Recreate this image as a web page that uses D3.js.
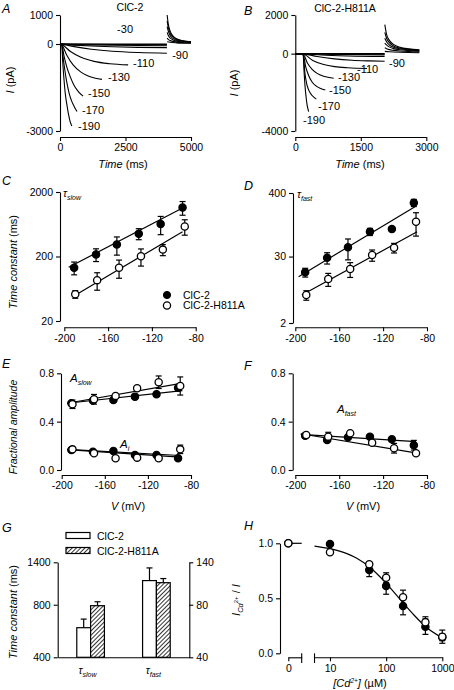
<!DOCTYPE html>
<html><head><meta charset="utf-8">
<script src="https://cdn.jsdelivr.net/npm/d3@7"></script>
<style>body{margin:0;background:#fff}</style>
</head><body>
<script>
const FONT = '"Liberation Sans", Arial, Helvetica, sans-serif';
const TICK_FS = 10.5;

// ================= DATA =================
// Panel A (ClC-2) current traces: [time ms, current pA]
const traceVoltsA = [-190,-170,-150,-130,-110,-90,-70,-50,-30,-10];
const tracesA = [
  [[0,0],[70,-50],[100,-550],[150,-1200],[200,-1700],[255,-2050],[320,-2400],[380,-2650],[450,-2830]],
  [[0,0],[70,-40],[120,-470],[180,-870],[255,-1300],[350,-1700],[450,-1980],[550,-2170],[650,-2330]],
  [[0,0],[70,-30],[150,-400],[255,-780],[400,-1150],[550,-1450],[700,-1640],[880,-1800]],
  [[0,0],[70,-30],[255,-380],[500,-720],[800,-970],[1100,-1110],[1350,-1180],[1600,-1220]],
  [[0,0],[70,-20],[400,-260],[800,-460],[1300,-600],[1900,-680],[2600,-720]],
  [[0,0],[70,-10],[600,-100],[1200,-180],[2000,-250],[3000,-295],[4080,-320]],
  [[0,0],[70,-5],[1000,-60],[2000,-95],[3000,-115],[4080,-125]],
  [[0,0],[70,-3],[1000,-30],[2000,-45],[4080,-60]],
  [[0,0],[70,0],[2000,-15],[4080,-20]],
  [[0,0],[70,0],[4080,0]]
];
const tailsA = [
  [[4090,1000],[4130,700],[4200,450],[4300,290],[4450,180],[4650,120],[5000,80]],
  [[4090,800],[4130,580],[4200,380],[4300,250],[4450,160],[4650,110],[5000,75]],
  [[4090,600],[4130,450],[4200,300],[4300,200],[4450,130],[4650,95],[5000,65]],
  [[4090,400],[4130,300],[4200,210],[4300,150],[4450,100],[4650,75],[5000,55]],
  [[4090,200],[4130,160],[4200,120],[4300,90],[4450,65],[4650,50],[5000,40]],
  [[4090,80],[4200,60],[4450,40],[5000,25]]
];
const labelsA = [
  {s:'-190', t:690, i:-2830}, {s:'-170', t:840, i:-2280}, {s:'-150', t:1070, i:-1690},
  {s:'-130', t:1830, i:-1140}, {s:'-110', t:2790, i:-655}, {s:'-90', t:4280, i:-380},
  {s:'-30', t:2180, i:520}
];
// Panel B (ClC-2-H811A) current traces
const tracesB = [
  [[0,0],[180,-50],[200,-900],[220,-1600],[245,-2200],[270,-2650],[306,-3000]],
  [[0,0],[180,-50],[220,-1000],[260,-1550],[310,-1900],[380,-2150],[481,-2350]],
  [[0,0],[180,-40],[240,-700],[300,-1100],[380,-1450],[480,-1680],[580,-1800],[687,-1880]],
  [[0,0],[180,-30],[280,-500],[380,-800],[500,-1020],[650,-1170],[879,-1270]],
  [[0,0],[180,-20],[400,-350],[650,-560],[900,-670],[1200,-730],[1642,-770]],
  [[0,0],[180,-10],[500,-150],[900,-270],[1300,-340],[1700,-375],[2046,-395]],
  [[0,0],[180,-5],[600,-70],[1200,-120],[2046,-150]],
  [[0,0],[180,-3],[800,-35],[2046,-60]],
  [[0,0],[180,0],[1000,-15],[2046,-20]],
  [[0,0],[180,0],[2046,0]]
];
const tailsB = [
  [[2050,1500],[2090,1000],[2150,700],[2250,480],[2400,330],[2600,250],[2840,200]],
  [[2050,1100],[2090,800],[2150,580],[2250,400],[2400,290],[2600,220],[2840,180]],
  [[2050,800],[2090,620],[2150,460],[2250,330],[2400,250],[2600,190],[2840,160]],
  [[2050,550],[2090,450],[2150,350],[2250,260],[2400,200],[2600,160],[2840,130]],
  [[2050,300],[2090,260],[2150,210],[2250,170],[2400,135],[2600,110],[2840,95]],
  [[2050,120],[2150,100],[2400,70],[2840,50]]
];
const labelsB = [
  {s:'-190', t:176, i:-3420}, {s:'-170', t:520, i:-2720}, {s:'-150', t:772, i:-1900},
  {s:'-130', t:978, i:-1230}, {s:'-110', t:1413, i:-820}, {s:'-90', t:2146, i:-510}
];

// Panels C-F: voltages
const vWT  = [-191,-171,-152,-132,-112,-92];
const vMut = [-190,-170,-150,-130,-110,-90];
// C: tau slow (ms)
const tauSlowWT = [134,215,306,452,636,1148];
const tauSlowWTerr = [30,48,96,88,200,275];
const tauSlowMut = [52,86,134,202,256,585];
const tauSlowMutErr = [7,26,42,60,50,157];
const tauSlowFitWT = [[-196,136],[-92,1130]];
const tauSlowFitMut = [[-192,48],[-92,484]];
// D: tau fast (ms)
const tauFastWT = [15.8,28.6,43.8,82.6,92.2,269];
const tauFastWTerr = [2.8,6.5,17.6,12,9,39];
const tauFastMut = [6.26,12.0,18.1,32.0,43.0,124];
const tauFastMutErr = [1.2,3.1,5.3,7.2,8.3,55];
const tauFastFitWT = [[-197,13.2],[-91,229]];
const tauFastFitMut = [[-194,6.26],[-89,82.6]];
// E: fractional amplitudes
const aSlowWT = [0.552,0.574,0.58,0.607,0.627,0.68];
const aSlowWTerr = [0.01,0.015,0.01,0.01,0.01,0.01];
const aSlowMut = [0.544,0.585,0.613,0.676,0.726,0.695];
const aSlowMutErr = [0.035,0.04,0.01,0.02,0.052,0.075];
const aSlowFitWT = [[-195,0.552],[-88,0.656]];
const aSlowFitMut = [[-195,0.552],[-88,0.718]];
const aiWT = [0.166,0.151,0.157,0.124,0.124,0.097];
const aiWTerr = [0.01,0.01,0.01,0.01,0.01,0.01];
const aiMut = [0.171,0.138,0.097,0.102,0.097,0.171];
const aiMutErr = [0.01,0.01,0.01,0.01,0.01,0.035];
const aiFitWT = [[-195,0.168],[-90,0.107]];
const aiFitMut = [[-195,0.17],[-90,0.12]];
// F
const aFastWT = [0.284,0.248,0.27,0.276,0.254,0.205];
const aFastWTerr = [0.01,0.015,0.01,0.01,0.01,0.04];
const aFastMut = [0.29,0.276,0.304,0.225,0.18,0.138];
const aFastMutErr = [0.01,0.036,0.015,0.01,0.04,0.01];
const aFastFitWT = [[-195,0.295],[-90,0.234]];
const aFastFitMut = [[-195,0.30],[-89,0.14]];
// G: mean time constants
const gCats = ['slow','fast'];
const gWT = [591,110], gWTerr = [71,20];
const gMut = [790,107], gMutErr = [42,6];
// H: Cd2+ inhibition
const cdConc = [10,50,100,200,500,1000];
const cdWT = [0.994,0.757,0.612,0.43,0.242,0.145];
const cdWTerr = [0.01,0.06,0.075,0.08,0.07,0.03];
const cdMut = [0.918,0.809,0.687,0.509,0.282,0.151];
const cdMutErr = [0.01,0.02,0.045,0.065,0.05,0.06];
const cdFitConc = [5.3,10,20,30,50,100,200,300,500,1000];
const cdFitVal  = [0.975,0.951,0.906,0.864,0.786,0.636,0.459,0.358,0.244,0.14];

// ================= DRAW =================
const svg = d3.select('body').append('svg').attr('width',454).attr('height',690)
  .style('font-family', FONT);

function styleAxis(g, size=TICK_FS){
  g.attr('font-family', FONT).attr('font-size', size);
  g.selectAll('text').attr('fill','#000');
  g.selectAll('path,line').attr('stroke','#000').attr('stroke-width',1.1);
}
function rich(x, y, parts, o={}){
  const t = svg.append('text').attr('x',x).attr('y',y).attr('font-size',o.size||11)
    .attr('text-anchor',o.anchor||'start').attr('fill','#000');
  if(o.rotate) t.attr('transform',`rotate(-90,${x},${y})`);
  parts.forEach(p=>{
    const s = t.append('tspan').text(p.t);
    if(p.i) s.attr('font-style','italic');
    if(p.dy) s.attr('dy',p.dy);
    if(p.size) s.attr('font-size',p.size);
  });
  return t;
}
const fmtInt = d => String(d);
const fmt1 = d => d.toFixed(1);

function points(g, xs, ys, errs, xS, yS, filled){
  const gg = g.append('g');
  xs.forEach((v,i)=>{
    const x = xS(v), e = errs ? errs[i] : 0;
    if(e>0){
      const y1 = yS(ys[i]-e), y2 = yS(ys[i]+e);
      gg.append('line').attr('x1',x).attr('x2',x).attr('y1',y1).attr('y2',y2).attr('stroke','#000').attr('stroke-width',1.2);
      [y1,y2].forEach(yy=>gg.append('line').attr('x1',x-3).attr('x2',x+3).attr('y1',yy).attr('y2',yy).attr('stroke','#000').attr('stroke-width',1.2));
    }
  });
  xs.forEach((v,i)=>{
    gg.append('circle').attr('cx',xS(v)).attr('cy',yS(ys[i])).attr('r',3.6)
      .attr('fill',filled?'#000':'#fff').attr('stroke','#000').attr('stroke-width',1.3);
  });
}
function fitLine(g, pts, xS, yS){
  g.append('path').datum(pts).attr('d',d3.line().x(d=>xS(d[0])).y(d=>yS(d[1])))
    .attr('fill','none').attr('stroke','#000').attr('stroke-width',1.2);
}

// ---------- Panel A ----------
{
  const x = d3.scaleLinear().domain([0,5000]).range([60,191]);
  const y = d3.scaleLinear().domain([-3000,1000]).range([131,15]);
  const g = svg.append('g');
  styleAxis(g.append('g').attr('transform','translate(60,0)')
    .call(d3.axisLeft(y).tickValues([-3000,0,1000]).tickSize(4).tickSizeOuter(0).tickFormat(fmtInt)));
  styleAxis(g.append('g').attr('transform','translate(0,137)')
    .call(d3.axisBottom(x).tickValues([0,2500,5000]).tickSize(4).tickSizeOuter(0).tickFormat(fmtInt)));
  const line = d3.line().x(d=>x(d[0])).y(d=>y(d[1])).curve(d3.curveMonotoneX);
  g.selectAll('.tr').data(tracesA).enter().append('path').attr('d',line)
    .attr('fill','none').attr('stroke','#000').attr('stroke-width',1.1);
  g.selectAll('.tl').data(tailsA).enter().append('path').attr('d',line)
    .attr('fill','none').attr('stroke','#000').attr('stroke-width',1.1);
  labelsA.forEach(l=>g.append('text').attr('x',x(l.t)).attr('y',y(l.i)).attr('dy','0.35em')
    .attr('font-size',11).text(l.s));
  rich(130,11,[{t:'ClC-2'}],{anchor:'middle',size:10.5});
  rich(2,13,[{t:'A',i:true}],{size:12.5});
  rich(123,168,[{t:'Time',i:true},{t:' (ms)'}],{anchor:'middle'});
  rich(14,80,[{t:'I',i:true},{t:' (pA)'}],{anchor:'middle',rotate:true});
}
// ---------- Panel B ----------
{
  const x = d3.scaleLinear().domain([0,3000]).range([295.3,426.3]);
  const y = d3.scaleLinear().domain([-4000,2000]).range([131,15]);
  const g = svg.append('g');
  styleAxis(g.append('g').attr('transform','translate(295.3,0)')
    .call(d3.axisLeft(y).tickValues([-4000,0,2000]).tickSize(4).tickSizeOuter(0).tickFormat(fmtInt)));
  styleAxis(g.append('g').attr('transform','translate(0,137)')
    .call(d3.axisBottom(x).tickValues([0,1500,3000]).tickSize(4).tickSizeOuter(0).tickFormat(fmtInt)));
  const line = d3.line().x(d=>x(d[0])).y(d=>y(d[1])).curve(d3.curveMonotoneX);
  g.selectAll('.tr').data(tracesB).enter().append('path').attr('d',line)
    .attr('fill','none').attr('stroke','#000').attr('stroke-width',1.1);
  g.selectAll('.tl').data(tailsB).enter().append('path').attr('d',line)
    .attr('fill','none').attr('stroke','#000').attr('stroke-width',1.1);
  labelsB.forEach(l=>g.append('text').attr('x',x(l.t)).attr('y',y(l.i)).attr('dy','0.35em')
    .attr('font-size',11).text(l.s));
  rich(345,12,[{t:'ClC-2-H811A'}],{anchor:'middle',size:10.5});
  rich(244,15,[{t:'B',i:true}],{size:12.5});
  rich(360,168,[{t:'Time',i:true},{t:' (ms)'}],{anchor:'middle'});
  rich(238,83,[{t:'I',i:true},{t:' (pA)'}],{anchor:'middle',rotate:true});
}
// ---------- Panel C ----------
{
  const x = d3.scaleLinear().domain([-200,-80]).range([64.3,195.7]);
  const y = d3.scaleLog().domain([20,2000]).range([321,192]);
  const g = svg.append('g');
  styleAxis(g.append('g').attr('transform','translate(60,0)')
    .call(d3.axisLeft(y).tickValues([20,200,2000]).tickSize(4).tickSizeOuter(0).tickFormat(fmtInt)));
  styleAxis(g.append('g').attr('transform','translate(0,327.3)')
    .call(d3.axisBottom(x).tickValues([-200,-160,-120,-80]).tickSize(4).tickSizeOuter(0).tickFormat(fmtInt)));
  fitLine(g, tauSlowFitWT, x, y);
  fitLine(g, tauSlowFitMut, x, y);
  points(g, vWT, tauSlowWT, tauSlowWTerr, x, y, true);
  points(g, vMut, tauSlowMut, tauSlowMutErr, x, y, false);
  // legend
  g.append('circle').attr('cx',167).attr('cy',295).attr('r',3.6).attr('fill','#000').attr('stroke','#000');
  g.append('circle').attr('cx',167).attr('cy',305.5).attr('r',3.6).attr('fill','#fff').attr('stroke','#000').attr('stroke-width',1.3);
  rich(183,298.8,[{t:'ClC-2'}],{size:10.5});
  rich(183,309.3,[{t:'ClC-2-H811A'}],{size:10.5});
  rich(63,197,[{t:'τ',i:true},{t:'slow',i:true,size:7,dy:3}],{size:10.5});
  rich(2,185,[{t:'C',i:true}],{size:12.5});
  rich(17,262,[{t:'Time constant',i:true},{t:' (ms)'}],{anchor:'middle',rotate:true,size:11});
}
// ---------- Panel D ----------
{
  const x = d3.scaleLinear().domain([-200,-80]).range([295.3,427]);
  const y = d3.scaleLog().domain([2,400]).range([323,193]);
  const g = svg.append('g');
  styleAxis(g.append('g').attr('transform','translate(293,0)')
    .call(d3.axisLeft(y).tickValues([2,30,400]).tickSize(4).tickSizeOuter(0).tickFormat(fmtInt)));
  styleAxis(g.append('g').attr('transform','translate(0,327.3)')
    .call(d3.axisBottom(x).tickValues([-200,-160,-120,-80]).tickSize(4).tickSizeOuter(0).tickFormat(fmtInt)));
  fitLine(g, tauFastFitWT, x, y);
  fitLine(g, tauFastFitMut, x, y);
  points(g, vWT, tauFastWT, tauFastWTerr, x, y, true);
  points(g, vMut, tauFastMut, tauFastMutErr, x, y, false);
  rich(297,198,[{t:'τ',i:true},{t:'fast',i:true,size:7,dy:3}],{size:10.5});
  rich(244,190,[{t:'D',i:true}],{size:12.5});
}
// ---------- Panel E ----------
{
  const x = d3.scaleLinear().domain([-200,-80]).range([61.7,191]);
  const y = d3.scaleLinear().domain([0,0.8]).range([470,373.3]);
  const g = svg.append('g');
  styleAxis(g.append('g').attr('transform','translate(61,0)')
    .call(d3.axisLeft(y).tickValues([0,0.4,0.8]).tickSize(4).tickSizeOuter(0).tickFormat(fmt1)));
  styleAxis(g.append('g').attr('transform','translate(0,475)')
    .call(d3.axisBottom(x).tickValues([-200,-160,-120,-80]).tickSize(4).tickSizeOuter(0).tickFormat(fmtInt)));
  fitLine(g, aSlowFitWT, x, y);
  fitLine(g, aSlowFitMut, x, y);
  fitLine(g, aiFitWT, x, y);
  fitLine(g, aiFitMut, x, y);
  points(g, vWT, aSlowWT, aSlowWTerr, x, y, true);
  points(g, vMut, aSlowMut, aSlowMutErr, x, y, false);
  points(g, vWT, aiWT, aiWTerr, x, y, true);
  points(g, vMut, aiMut, aiMutErr, x, y, false);
  rich(70,382,[{t:'A',i:true,size:11.5},{t:'slow',i:true,size:7,dy:3}]);
  rich(120,448,[{t:'A',i:true,size:11.5},{t:'i',i:true,size:7,dy:3}]);
  rich(2,368,[{t:'E',i:true}],{size:12.5});
  rich(128,510,[{t:'V',i:true},{t:' (mV)'}],{anchor:'middle'});
  rich(17,427,[{t:'Fractional amplitude',i:true}],{anchor:'middle',rotate:true,size:10.5});
}
// ---------- Panel F ----------
{
  const x = d3.scaleLinear().domain([-200,-80]).range([295.3,427]);
  const y = d3.scaleLinear().domain([0,0.8]).range([470,373.3]);
  const g = svg.append('g');
  styleAxis(g.append('g').attr('transform','translate(292.7,0)')
    .call(d3.axisLeft(y).tickValues([0,0.4,0.8]).tickSize(4).tickSizeOuter(0).tickFormat(fmt1)));
  styleAxis(g.append('g').attr('transform','translate(0,475)')
    .call(d3.axisBottom(x).tickValues([-200,-160,-120,-80]).tickSize(4).tickSizeOuter(0).tickFormat(fmtInt)));
  fitLine(g, aFastFitWT, x, y);
  fitLine(g, aFastFitMut, x, y);
  points(g, vWT, aFastWT, aFastWTerr, x, y, true);
  points(g, vMut, aFastMut, aFastMutErr, x, y, false);
  rich(337,413,[{t:'A',i:true,size:11.5},{t:'fast',i:true,size:7,dy:3}]);
  rich(244,370,[{t:'F',i:true}],{size:12.5});
  rich(363,510,[{t:'V',i:true},{t:' (mV)'}],{anchor:'middle'});
}
// ---------- Panel G ----------
{
  const defs = svg.append('defs');
  const pat = defs.append('pattern').attr('id','hatch').attr('patternUnits','userSpaceOnUse')
    .attr('width',3).attr('height',3).attr('patternTransform','rotate(45)');
  pat.append('rect').attr('width',3).attr('height',3).attr('fill','#fff');
  pat.append('line').attr('x1',0).attr('y1',0).attr('x2',0).attr('y2',3).attr('stroke','#000').attr('stroke-width',1.6);

  const yL = d3.scaleLog().domain([400,1400]).range([657.3,562.3]);
  const yR = d3.scaleLog().domain([40,140]).range([657.3,562.3]);
  const xB = d3.scaleBand().domain(gCats).range([57.7,189.3]).paddingInner(0.58).paddingOuter(0.29);
  const xS = d3.scaleBand().domain(['wt','mut']).range([0,xB.bandwidth()]);
  const g = svg.append('g');
  styleAxis(g.append('g').attr('transform','translate(57.7,0)')
    .call(d3.axisLeft(yL).tickValues([400,800,1400]).tickSize(4).tickSizeOuter(0).tickFormat(fmtInt)));
  styleAxis(g.append('g').attr('transform','translate(189.3,0)')
    .call(d3.axisRight(yR).tickValues([40,80,140]).tickSize(4).tickSizeOuter(0).tickFormat(fmtInt)));
  styleAxis(g.append('g').attr('transform','translate(0,657.3)')
    .call(d3.axisBottom(xB).tickSize(0).tickSizeOuter(0).tickFormat(()=>'')));
  const scales = [yL, yR];
  gCats.forEach((c,i)=>{
    const ys = scales[i];
    [['wt',gWT[i],gWTerr[i],'#fff'],['mut',gMut[i],gMutErr[i],'url(#hatch)']].forEach(([k,v,e,f])=>{
      const x0 = xB(c)+xS(k), w = xS.bandwidth();
      g.append('line').attr('x1',x0+w/2).attr('x2',x0+w/2).attr('y1',ys(v)).attr('y2',ys(v+e)).attr('stroke','#000').attr('stroke-width',1.2);
      g.append('line').attr('x1',x0+w/2-3).attr('x2',x0+w/2+3).attr('y1',ys(v+e)).attr('y2',ys(v+e)).attr('stroke','#000').attr('stroke-width',1.2);
      g.append('rect').attr('x',x0).attr('y',ys(v)).attr('width',w).attr('height',ys.range()[0]-ys(v))
        .attr('fill',f).attr('stroke','#000').attr('stroke-width',1.2);
    });
  });
  // legend
  g.append('rect').attr('x',66).attr('y',532.5).attr('width',24).attr('height',6).attr('fill','#fff').attr('stroke','#000').attr('stroke-width',1.2);
  g.append('rect').attr('x',66).attr('y',547.5).attr('width',24).attr('height',6).attr('fill','url(#hatch)').attr('stroke','#000').attr('stroke-width',1.2);
  rich(97,539.5,[{t:'ClC-2'}],{size:10.5});
  rich(97,554.5,[{t:'ClC-2-H811A'}],{size:10.5});
  rich(xB('slow')+xB.bandwidth()/2-3,674,[{t:'τ',i:true},{t:'slow',i:true,size:7,dy:3}],{anchor:'middle',size:10.5});
  rich(xB('fast')+xB.bandwidth()/2-3,674,[{t:'τ',i:true},{t:'fast',i:true,size:7,dy:3}],{anchor:'middle',size:10.5});
  rich(2,532,[{t:'G',i:true}],{size:12.5});
  rich(17,612,[{t:'Time constant',i:true},{t:' (ms)'}],{anchor:'middle',rotate:true,size:11});
}
// ---------- Panel H ----------
{
  const x = d3.scaleLog().domain([10,1000]).range([330,442.3]);
  const x0 = d3.scaleLinear().domain([0,1]).range([288.3,301.7]);
  const y = d3.scaleLinear().domain([0,1]).range([653.3,543.3]);
  const g = svg.append('g');
  styleAxis(g.append('g').attr('transform','translate(280,0)')
    .call(d3.axisLeft(y).tickValues([0,0.5,1]).tickSize(4).tickSizeOuter(0).tickFormat(fmt1)));
  const ax0 = g.append('g').attr('transform','translate(0,657.3)')
    .call(d3.axisBottom(x0).tickValues([0]).tickSize(4).tickSizeOuter(0).tickFormat(fmtInt));
  styleAxis(ax0);
  const x1 = d3.scaleLog().domain([cdFitConc[0],1000]).range([x(cdFitConc[0]),442.3]);
  const ax1 = g.append('g').attr('transform','translate(0,657.3)')
    .call(d3.axisBottom(x1).tickValues([10,100,1000]).tickSize(4).tickSizeOuter(0).tickFormat(fmtInt));
  styleAxis(ax1);
  [x0(1), x(cdFitConc[0])].forEach(px=>g.append('line').attr('x1',px).attr('x2',px)
    .attr('y1',653.3).attr('y2',663).attr('stroke','#000').attr('stroke-width',1.1));
  g.append('path').datum([[0,1],[1,1]]).attr('d',d3.line().x(d=>x0(d[0])).y(d=>y(d[1])))
    .attr('fill','none').attr('stroke','#000').attr('stroke-width',1.2);
  g.append('path').datum(cdFitConc.map((c,i)=>[c,cdFitVal[i]]))
    .attr('d',d3.line().x(d=>x(d[0])).y(d=>y(d[1])).curve(d3.curveMonotoneX))
    .attr('fill','none').attr('stroke','#000').attr('stroke-width',1.2);
  points(g, [0], [1], null, x0, y, true);
  points(g, cdConc, cdWT, cdWTerr, x, y, true);
  points(g, [0], [1], null, x0, y, false);
  points(g, cdConc, cdMut, cdMutErr, x, y, false);
  rich(244,530,[{t:'H',i:true}],{size:12.5});
  rich(240,600,[{t:'I',i:true},{t:'Cd',i:true,size:7.5,dy:3},{t:'2+',size:6,dy:-5},{t:' / ',dy:2},{t:'I',i:true}],{anchor:'middle',rotate:true});
  rich(360,687,[{t:'[Cd',i:true},{t:'2+',i:true,size:6.5,dy:-4},{t:']',i:true,dy:4},{t:' (µM)'}],{anchor:'middle'});
}
</script>
</body></html>
